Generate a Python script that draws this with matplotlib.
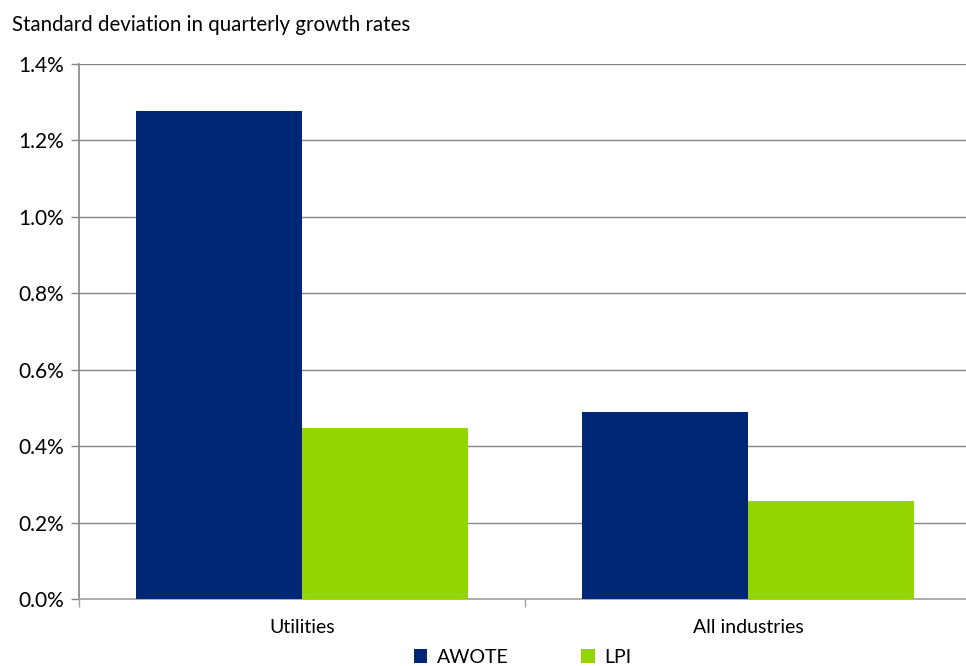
import numpy as np
import matplotlib.pyplot as plt
from matplotlib.ticker import FuncFormatter

categories = ["Utilities", "All industries"]
series_names = ["AWOTE", "LPI"]
awote = [1.277, 0.490]
lpi = [0.449, 0.258]
colors = ["#002776", "#94D500"]

plt.rcParams["font.family"] = ["Lato", "DejaVu Sans"]

fig = plt.figure(figsize=(9.66, 6.66), dpi=100)
ax = fig.add_axes([0.0818, 0.100, 0.9234, 0.804])

x = np.arange(len(categories))
w = 0.372
ax.bar(x - w / 2, awote, w, color=colors[0], label=series_names[0], zorder=3)
ax.bar(x + w / 2, lpi, w, color=colors[1], label=series_names[1], zorder=3)

ax.set_xlim(-0.5, len(categories) - 0.5)
ax.set_ylim(0, 1.4)
ax.set_yticks(np.arange(0, 1.41, 0.2))
ax.yaxis.set_major_formatter(FuncFormatter(lambda v, p: f"{v:.1f}%"))
ax.set_xticks(x)
ax.set_xticklabels(categories)
ax.set_xticks(np.arange(-0.5, len(categories), 1.0), minor=True)
ax.tick_params(axis="x", which="major", length=0, pad=14, labelsize=14)
ax.tick_params(axis="x", which="minor", length=6, color="#a0a0a0", width=1)
ax.tick_params(axis="y", length=6, color="#868686", width=1, labelsize=15, pad=5)

ax.grid(axis="y", color="#868686", linewidth=1, zorder=0)
for s in ["top", "right"]:
    ax.spines[s].set_visible(False)
ax.spines["left"].set_color("#868686")
ax.spines["bottom"].set_color("#a0a0a0")
for s in ["left", "bottom"]:
    ax.spines[s].set_linewidth(1.2)

fig.text(0.012, 0.962, "Standard deviation in quarterly growth rates", fontsize=14.8,
         va="center", ha="left")

fig.legend(loc="center", bbox_to_anchor=(0.541, 0.013), ncol=2, frameon=False,
           fontsize=14, handlelength=0.7, handleheight=0.7, columnspacing=3.7,
           handletextpad=0.5, borderaxespad=0)

fig.savefig("out.png", dpi=100)
plt.close(fig)
